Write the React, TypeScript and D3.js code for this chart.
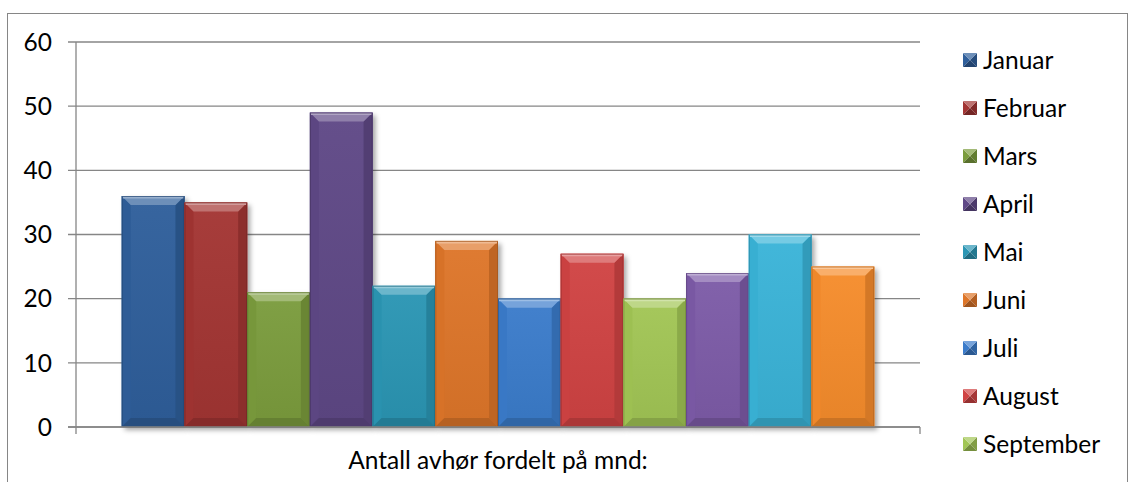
import * as d3 from 'd3';
import React from 'react';

// chart data
const months = ['Januar', 'Februar', 'Mars', 'April', 'Mai', 'Juni', 'Juli', 'August', 'September', 'Oktober', 'November', 'Desember'];
const values = [36, 35, 21, 49, 22, 29, 20, 27, 20, 24, 30, 25];
const colors = ['#2f5f9b', '#a33533', '#7b9c3d', '#5f4886', '#2b96b4', '#de7629', '#3b7ccb', '#d04343', '#a2c655', '#7d5ba8', '#3ab4d8', '#f68c2c'];
const yTicks = [0, 10, 20, 30, 40, 50, 60];
const axisTitle = 'Antall avhør fordelt på mnd:';

const W = 1130;
const H = 482;
const FONT = 'Lato, "Open Sans", sans-serif';
const FS = 24.5;
const GRID = '#868686';

// bevelled box like the office 2007 style
const bevel = (x0: number, x1: number, y0: number, y1: number, b: number) => {
  const bb = Math.min(b, (y1 - y0) / 2, (x1 - x0) / 2);
  return {
    top: `M${x0},${y0}L${x1},${y0}L${x1 - bb},${y0 + bb}L${x0 + bb},${y0 + bb}Z`,
    bottom: `M${x0},${y1}L${x1},${y1}L${x1 - bb},${y1 - bb}L${x0 + bb},${y1 - bb}Z`,
    left: `M${x0},${y0}L${x0 + bb},${y0 + bb}L${x0 + bb},${y1 - bb}L${x0},${y1}Z`,
    right: `M${x1},${y0}L${x1 - bb},${y0 + bb}L${x1 - bb},${y1 - bb}L${x1},${y1}Z`,
  };
};

const lighten = (c: string, t: number) => d3.interpolateRgb(c, '#ffffff')(t);
const darken = (c: string, t: number) => d3.interpolateRgb(c, '#000000')(t);

export default function App() {
  const plot = { left: 76, right: 920, top: 42, bottom: 427 };

  const x = d3.scaleBand<string>()
    .domain(months)
    .range([plot.left, plot.right])
    .paddingInner(0)
    .paddingOuter(0.73);

  const y = d3.scaleLinear()
    .domain([0, 60])
    .range([plot.bottom, plot.top]);

  const legendY = d3.scaleLinear()
    .domain([0, 1])
    .range([60, 108]);

  // the legend runs off the bottom of the chart: only the rows that fit are shown
  const legendItems = months.filter((m, i) => legendY(i) + 12 < H);

  return (
    <svg width={W} height={H} style={{ position: 'absolute', left: 0, top: 0, background: '#fff' }}>
      <defs>
        <filter id="shadow" x="-20%" y="-20%" width="150%" height="150%">
          <feDropShadow dx="3" dy="3" stdDeviation="2.5" floodColor="#000" floodOpacity="0.35" />
        </filter>
        {colors.map((c, i) => (
          <linearGradient key={i} id={`face${i}`} x1="0" y1="0" x2="0" y2="1">
            <stop offset="0" stopColor={lighten(c, 0.04)} />
            <stop offset="1" stopColor={darken(c, 0.06)} />
          </linearGradient>
        ))}
      </defs>

      {/* outer chart frame */}
      <rect x={7.5} y={13.5} width={1120} height={520} fill="none" stroke={GRID} strokeWidth={1} />

      {/* gridlines and y tick labels */}
      {yTicks.map(t => (
        <g key={t}>
          <line x1={68} x2={plot.right} y1={y(t)} y2={y(t)} stroke={GRID} strokeWidth={1.3} />
          <text x={52} y={y(t)} dy="0.36em" textAnchor="end" fontFamily={FONT} fontSize={FS} fill="#000">{t}</text>
        </g>
      ))}

      {/* y axis */}
      <line x1={plot.left} x2={plot.left} y1={plot.top} y2={plot.bottom + 7} stroke={GRID} strokeWidth={1.3} />
      <line x1={plot.right} x2={plot.right} y1={plot.bottom} y2={plot.bottom + 7} stroke={GRID} strokeWidth={1.3} />

      {/* bars */}
      {months.map((m, i) => {
        const x0 = x(m)!;
        const x1 = x0 + x.bandwidth();
        const y0 = y(values[i]);
        const y1 = y(0);
        const c = colors[i];
        const p = bevel(x0, x1, y0, y1, 9);
        return (
          <g key={m}>
            <rect x={x0} y={y0} width={x1 - x0} height={y1 - y0} fill={c} filter="url(#shadow)" />
            <rect x={x0} y={y0} width={x1 - x0} height={y1 - y0} fill={`url(#face${i})`} />
            <path d={p.left} fill={darken(c, 0.03)} />
            <path d={p.right} fill={darken(c, 0.14)} />
            <path d={p.bottom} fill={darken(c, 0.18)} />
            <path d={p.top} fill={lighten(c, 0.3)} />
            <line x1={x0 + 1} x2={x1 - 1} y1={y0 + 1.5} y2={y0 + 1.5} stroke={lighten(c, 0.5)} strokeWidth={2} />
            <rect x={x0 + 0.5} y={y0 + 0.5} width={x1 - x0 - 1} height={y1 - y0 - 1} fill="none" stroke={darken(c, 0.3)} strokeOpacity={0.6} strokeWidth={1} />
          </g>
        );
      })}

      {/* x axis baseline */}
      <line x1={68} x2={plot.right} y1={plot.bottom} y2={plot.bottom} stroke={GRID} strokeWidth={1.3} />

      {/* category axis title */}
      <text x={(plot.left + plot.right) / 2} y={469} textAnchor="middle" fontFamily={FONT} fontSize={FS} fill="#000">{axisTitle}</text>

      {/* legend */}
      {legendItems.map((m, i) => {
        const cy = legendY(i);
        const s = 14;
        const lx0 = 963;
        const ly0 = cy - s / 2;
        const c = colors[i];
        const p = bevel(lx0, lx0 + s, ly0, ly0 + s, s / 2);
        return (
          <g key={m}>
            <path d={p.left} fill={c} />
            <path d={p.right} fill={darken(c, 0.2)} />
            <path d={p.bottom} fill={darken(c, 0.28)} />
            <path d={p.top} fill={lighten(c, 0.3)} />
            <text x={983} y={cy} dy="0.36em" fontFamily={FONT} fontSize={FS} fill="#000">{m}</text>
          </g>
        );
      })}
    </svg>
  );
}
